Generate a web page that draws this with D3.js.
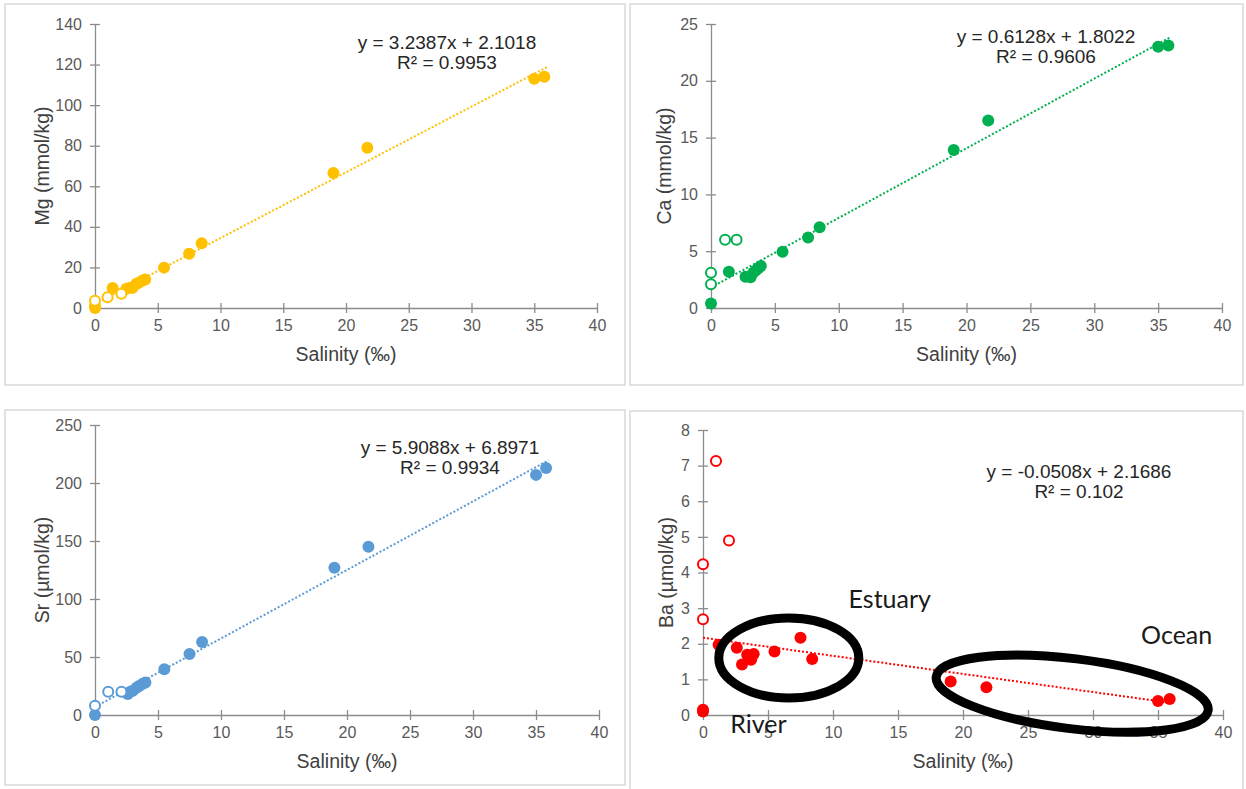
<!DOCTYPE html>
<html>
<head>
<meta charset="utf-8">
<script src="https://cdn.jsdelivr.net/npm/d3@7"></script>
<style>
  body { margin: 0; background: #fff; }
  svg { display: block; }
  .tick text { font-family: Arial, "Liberation Sans", sans-serif; font-size: 16px; fill: #595959; }
  .axis-title { font-family: Arial, "Liberation Sans", sans-serif; font-size: 19.5px; fill: #404040; }
  .eq { font-family: Arial, "Liberation Sans", sans-serif; font-size: 19px; fill: #262626; }
  .zone { font-family: Lato, "Open Sans", sans-serif; font-size: 25px; fill: #1a1a1a; }
</style>
</head>
<body>
<svg id="chart" width="1246" height="789"></svg>
<script>
// values
const xTicks = [0, 5, 10, 15, 20, 25, 30, 35, 40]

const mgSal = [0, 0, 1.4, 2.5, 2.8, 3.0, 3.3, 3.5, 3.8, 4.0, 5.5, 7.5, 8.5, 19.0, 21.7, 35.0, 35.8]
const mgVal = [0, 1, 9.9, 9.5, 10, 10, 12, 12.5, 13.5, 14, 19.9, 26.8, 31.9, 66.5, 79, 113, 114]
const mgOpenSal = [0, 1.0, 2.1]
const mgOpenVal = [3.6, 5.3, 7]
const mgTicks = [0, 20, 40, 60, 80, 100, 120, 140]

const caSal = [0, 1.4, 2.7, 3.1, 3.3, 3.5, 3.7, 3.9, 5.6, 7.6, 8.5, 19.0, 21.7, 35.0, 35.8]
const caVal = [0.4, 3.2, 2.75, 2.7, 3.1, 3.3, 3.5, 3.7, 4.96, 6.2, 7.1, 13.9, 16.5, 23.0, 23.1]
const caOpenSal = [0, 0, 1.1, 2.0]
const caOpenVal = [3.1, 2.1, 6.0, 6.0]
const caTicks = [0, 5, 10, 15, 20, 25]

const srSal = [0, 2.6, 2.8, 3.0, 3.3, 3.5, 3.8, 4.0, 5.5, 7.5, 8.5, 19.0, 21.7, 35.0, 35.8]
const srVal = [0, 18, 20, 21, 23.5, 25, 27, 28, 39.5, 52.5, 63, 127, 145, 207, 213]
const srOpenSal = [0, 1.05, 2.1]
const srOpenVal = [8, 20, 20]
const srTicks = [0, 50, 100, 150, 200, 250]

const baSal = [0, 0, 1.2, 2.6, 3.0, 3.4, 3.7, 3.9, 5.5, 7.5, 8.4, 19.05, 21.8, 35.0, 35.9]
const baVal = [0.1, 0.15, 1.97, 1.89, 1.42, 1.69, 1.55, 1.71, 1.78, 2.17, 1.57, 0.94, 0.78, 0.39, 0.45]
const baOpenSal = [1.0, 2.0, 0, 0]
const baOpenVal = [7.13, 4.9, 4.23, 2.69]
const baTicks = [0, 1, 2, 3, 4, 5, 6, 7, 8]

const panels = [
  { box: [5, 4, 625, 385], plot: [95, 597, 24, 308], color: '#FFC000',
    xs: mgSal, ys: mgVal, ox: mgOpenSal, oy: mgOpenVal, yMax: 140, yTicks: mgTicks,
    slope: 3.2387, icept: 2.1018, eq: ['y = 3.2387x + 2.1018', 'R² = 0.9953'], eqAt: [447, 49],
    yTitle: 'Mg (mmol/kg)', yTitleX: 42 },
  { box: [630, 4, 1243, 385], plot: [711, 1222, 24, 308], color: '#00B050',
    xs: caSal, ys: caVal, ox: caOpenSal, oy: caOpenVal, yMax: 25, yTicks: caTicks,
    slope: 0.6128, icept: 1.8022, eq: ['y = 0.6128x + 1.8022', 'R² = 0.9606'], eqAt: [1046, 43],
    yTitle: 'Ca (mmol/kg)', yTitleX: 664 },
  { box: [5, 410, 625, 785], plot: [95, 599, 425, 715], color: '#5B9BD5',
    xs: srSal, ys: srVal, ox: srOpenSal, oy: srOpenVal, yMax: 250, yTicks: srTicks,
    slope: 5.9088, icept: 6.8971, eq: ['y = 5.9088x + 6.8971', 'R² = 0.9934'], eqAt: [450, 454],
    yTitle: 'Sr (µmol/kg)', yTitleX: 42 },
  { box: [630, 411, 1243, 792], plot: [703, 1223, 430, 715], color: '#FF0000',
    xs: baSal, ys: baVal, ox: baOpenSal, oy: baOpenVal, yMax: 8, yTicks: baTicks,
    slope: -0.0508, icept: 2.1686, eq: ['y = -0.0508x + 2.1686', 'R² = 0.102'], eqAt: [1079, 478],
    yTitle: 'Ba (µmol/kg)', yTitleX: 666 }
]

const svg = d3.select('#chart')

const drawPanel = (p) => {
  const [bx0, by0, bx1, by1] = p.box
  const [left, right, top, bottom] = p.plot

  svg.append('rect')
    .attr('x', bx0).attr('y', by0)
    .attr('width', bx1 - bx0).attr('height', by1 - by0)
    .attr('fill', '#fff')
    .attr('stroke', '#d9d9d9')
    .attr('stroke-width', 1.5)

  const x = d3.scaleLinear().domain([0, 40]).range([left, right])
  const y = d3.scaleLinear().domain([0, p.yMax]).range([bottom, top])
  const g = svg.append('g')

  const xAxis = g.append('g')
    .attr('transform', `translate(0,${bottom})`)
    .call(d3.axisBottom(x).tickValues(xTicks).tickSize(5).tickSizeOuter(0).tickPadding(7))
  const yAxis = g.append('g')
    .attr('transform', `translate(${left},0)`)
    .call(d3.axisLeft(y).tickValues(p.yTicks).tickSize(5).tickSizeOuter(0).tickPadding(8))

  // excel style "cross" tick marks
  xAxis.selectAll('.tick line').attr('y1', -5)
  yAxis.selectAll('.tick line').attr('x1', 5)
  g.selectAll('.domain, .tick line').attr('stroke', '#8c8c8c').attr('stroke-width', 1.3)

  g.append('text')
    .attr('class', 'axis-title')
    .attr('x', (left + right) / 2)
    .attr('y', bottom + 53)
    .attr('text-anchor', 'middle')
    .text('Salinity (‰)')

  g.append('text')
    .attr('class', 'axis-title')
    .attr('transform', `translate(${p.yTitleX},${(top + bottom) / 2}) rotate(-90)`)
    .attr('text-anchor', 'middle')
    .attr('dy', '0.35em')
    .text(p.yTitle)

  // linear trendline
  g.append('line')
    .attr('x1', x(0)).attr('y1', y(p.icept))
    .attr('x2', x(36)).attr('y2', y(p.slope * 36 + p.icept))
    .attr('stroke', p.color)
    .attr('stroke-width', 2)
    .attr('stroke-dasharray', '2,2')

  g.append('g')
    .selectAll('circle')
    .data(d3.zip(p.xs, p.ys))
    .enter()
    .append('circle')
    .attr('cx', (d) => x(d[0]))
    .attr('cy', (d) => y(d[1]))
    .attr('r', 6)
    .attr('fill', p.color)

  g.append('g')
    .selectAll('circle')
    .data(d3.zip(p.ox, p.oy))
    .enter()
    .append('circle')
    .attr('cx', (d) => x(d[0]))
    .attr('cy', (d) => y(d[1]))
    .attr('r', 5)
    .attr('fill', '#fff')
    .attr('stroke', p.color)
    .attr('stroke-width', 2)

  const eq = g.append('text')
    .attr('class', 'eq')
    .attr('text-anchor', 'middle')
  eq.append('tspan').attr('x', p.eqAt[0]).attr('y', p.eqAt[1]).text(p.eq[0])
  eq.append('tspan').attr('x', p.eqAt[0]).attr('y', p.eqAt[1] + 20).text(p.eq[1])

  return { g, x, y }
}

const drawn = panels.map(drawPanel)

// hand-drawn annotations on the Ba panel
const ba = drawn[3]
ba.g.append('ellipse')
  .attr('cx', ba.x(6.6)).attr('cy', ba.y(1.6))
  .attr('rx', 70).attr('ry', 40)
  .attr('fill', 'none').attr('stroke', '#000').attr('stroke-width', 9)

ba.g.append('ellipse')
  .attr('transform', `translate(${ba.x(28.4)},${ba.y(0.6)}) rotate(7)`)
  .attr('rx', 137).attr('ry', 35)
  .attr('fill', 'none').attr('stroke', '#000').attr('stroke-width', 9)

const zones = [['Estuary', 11.2, 3.0], ['Ocean', 33.7, 2.0], ['River', 2.1, -0.5]]
ba.g.selectAll('text.zone')
  .data(zones)
  .enter()
  .append('text')
  .attr('class', 'zone')
  .attr('x', (d) => ba.x(d[1]))
  .attr('y', (d) => ba.y(d[2]))
  .text((d) => d[0])
</script>
</body>
</html>
